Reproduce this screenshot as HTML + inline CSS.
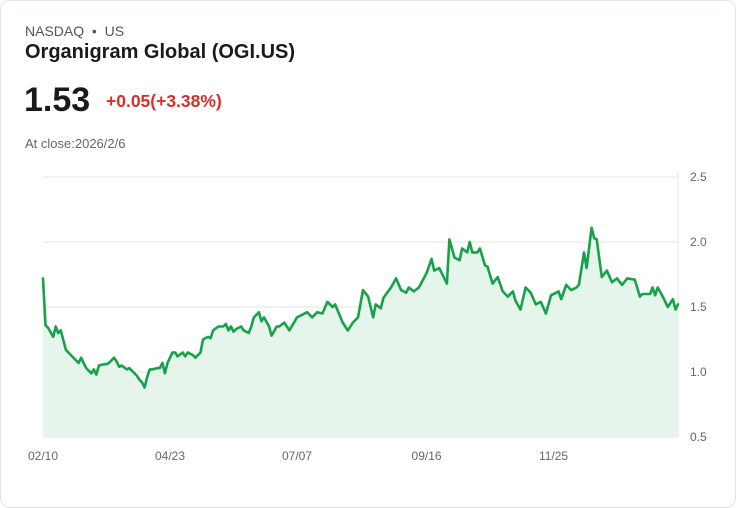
<!DOCTYPE html>
<html><head><meta charset="utf-8"><style>
html,body{margin:0;padding:0;background:#fff;}
body{width:736px;height:508px;position:relative;font-family:"Liberation Sans",sans-serif;overflow:hidden;}
.card{position:absolute;left:0;top:0;width:734px;height:506px;border:1px solid #dfe3ea;border-radius:10px;background:#fff;}
.t{position:absolute;white-space:nowrap;}
</style></head><body>
<div class="card"></div>
<div class="t" style="left:25px;top:23px;font-size:14px;color:#555;">NASDAQ &nbsp;•&nbsp; US</div>
<div class="t" style="left:25px;top:41px;font-size:20px;font-weight:bold;color:#1a1a1a;">Organigram Global (OGI.US)</div>
<div class="t" style="left:24px;top:81px;font-size:34px;font-weight:bold;color:#1a1a1a;">1.53</div>
<div class="t" style="left:106px;top:91px;font-size:17.5px;font-weight:bold;color:#d9302b;">+0.05(+3.38%)</div>
<div class="t" style="left:25px;top:136px;font-size:13px;color:#666;">At close:2026/2/6</div>
<svg id="chart" width="736" height="508" style="position:absolute;left:0;top:0;"></svg>
<script>
const days=[0,1,2,4,5,6,7,9,10,11,13,14,15,16,17,19,20,21,22,24,25,26,28,29,30,31,33,34,35,37,38,39,40,41,42,43,45,46,47,48,49,51,52,53,55,56,57,59,60,61,62,63,65,66,67,69,70,71,72,73,74,75,76,78,79,81,82,
83,85,86,87,89,90,92,93,95,97,100,104,106,108,110,112,114,115,118,120,122,124,
126,128,130,131,133,134,137,139,141,143,144,146,148,151,153,154,156,159,160,162,164,165,167,168,169,171,172,174,175,177,179,181,183,185,186,188,190,192,194,196,198,200,203,204,206,208,210,211,213,214,216,217,218,220,222,224,226,228,230,233,235,236,239,240,241,242,244,246,248,249,250];
const values=[1.72,1.36,1.34,1.27,1.35,1.30,1.32,1.17,1.15,1.13,1.09,1.07,1.11,1.07,1.03,0.99,1.02,0.98,1.05,1.06,1.06,1.07,1.11,1.08,1.04,1.05,1.02,1.03,1.01,0.97,0.94,0.92,0.88,0.96,1.02,1.02,1.03,1.03,1.07,0.99,1.07,1.15,1.15,1.12,1.15,1.12,1.15,1.13,1.11,1.13,1.15,1.25,1.27,1.26,1.32,1.35,1.35,1.35,1.37,1.32,1.35,1.31,1.33,1.35,1.32,1.30,1.35,
1.42,1.46,1.39,1.42,1.35,1.28,1.35,1.35,1.38,1.32,1.42,1.46,1.42,1.46,1.45,1.54,1.50,1.52,1.38,1.32,1.38,1.42,
1.63,1.58,1.42,1.52,1.49,1.57,1.65,1.72,1.63,1.61,1.65,1.62,1.65,1.76,1.87,1.78,1.80,1.68,2.02,1.88,1.86,1.95,1.92,2.00,1.92,1.92,1.95,1.82,1.81,1.68,1.73,1.62,1.58,1.62,1.55,1.48,1.65,1.61,1.52,1.54,1.45,1.59,1.62,1.56,1.67,1.63,1.65,1.67,1.92,1.80,2.11,2.03,2.02,1.73,1.78,1.69,1.72,1.67,1.72,1.71,1.58,1.60,1.60,1.65,1.59,1.65,1.58,1.50,1.56,1.48,1.52];
const yTicks=[0.5,1.0,1.5,2.0,2.5];
const xLabels=["02/10","04/23","07/07","09/16","11/25"];
const xLabelDays=[0,50,100,151,201];
const svg=document.getElementById('chart');
const NS="http://www.w3.org/2000/svg";
const L=43,R=678,T=177,B=437,ymin=0.5,ymax=2.5,dmax=250;
const xs=d=>L+(R-L)*d/dmax;
const ys=v=>B-(v-ymin)/(ymax-ymin)*(B-T);
function mk(tag,attrs){const e=document.createElementNS(NS,tag);for(const k in attrs)e.setAttribute(k,attrs[k]);svg.appendChild(e);return e;}
yTicks.forEach(t=>{
  const g=mk('line',{x1:L,x2:R,y1:ys(t),y2:ys(t),stroke:'#e3e3e3','stroke-width':1});
  
  
  const tx=mk('text',{x:690,y:ys(t)+4,'font-size':12,fill:'#666','font-family':'Liberation Sans, sans-serif'});
  tx.textContent=t.toFixed(1);
  
  
});
const ax=mk('line',{x1:R,x2:R,y1:T-5,y2:B,stroke:'#e3e3e3','stroke-width':1});


let d=values.map((v,i)=>(i?'L':'M')+xs(days[i]).toFixed(1)+','+ys(v).toFixed(1)).join(' ');
const area=mk('path',{d:d+` L${xs(days[days.length-1])},${B} L${L},${B} Z`,fill:'#e6f5ec'});


const line=mk('path',{d:d,fill:'none',stroke:'#17a24a','stroke-width':2.6,'stroke-linejoin':'round','stroke-linecap':'round'});


xLabels.forEach((s,k)=>{
  const tx=mk('text',{x:xs(xLabelDays[k]),y:460,'font-size':12,fill:'#666','text-anchor':'middle','font-family':'Liberation Sans, sans-serif'});
  tx.textContent=s;
  
  
});
</script>
</body></html>
